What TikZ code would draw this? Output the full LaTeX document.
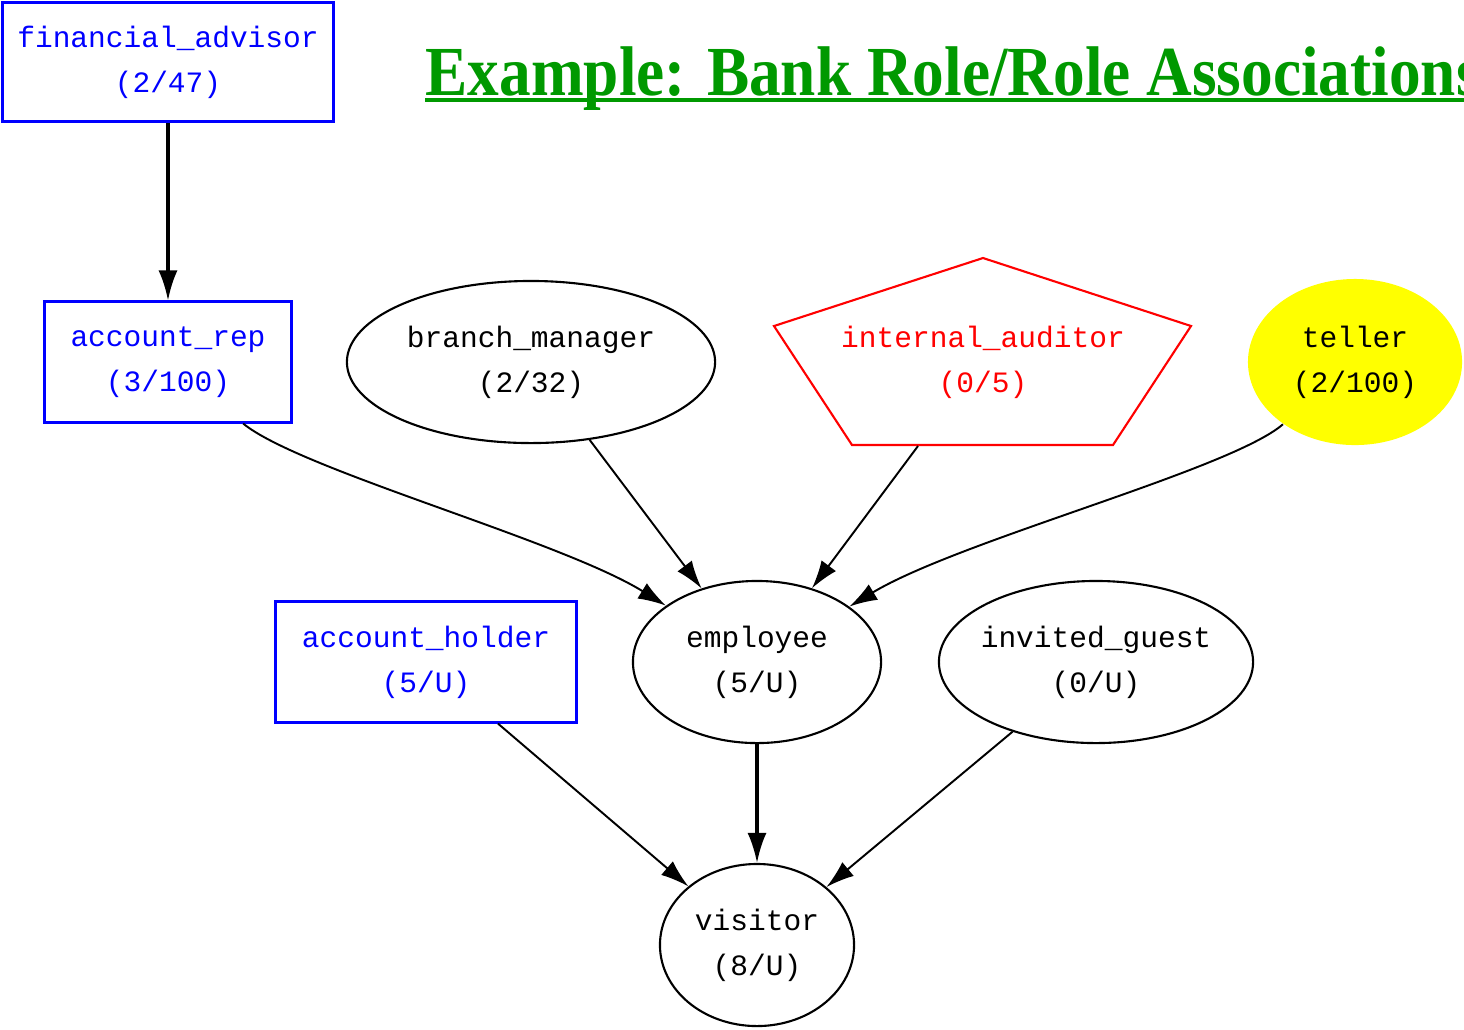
\documentclass[tikz,border=0pt]{standalone}
\usepackage{fontspec}
\setmonofont{Liberation Mono}
\newfontfamily\titlefont{Liberation Serif}
\usetikzlibrary{arrows.meta,shapes.geometric,positioning}
\definecolor{roleblue}{RGB}{0,0,255}
\definecolor{rolered}{RGB}{255,0,0}
\definecolor{roleyellow}{RGB}{255,255,0}
\definecolor{titlegreen}{RGB}{0,153,0}
\tikzset{
  roletext/.style={font=\ttfamily\fontsize{8.4}{12.8}\selectfont, align=center, inner sep=0pt},
  rolebox/.style={roletext, rectangle, draw=roleblue, text=roleblue, line width=0.85pt},
  roleoval/.style={roletext, ellipse, draw=black, line width=0.6pt},
  edge/.style={-{Latex[length=0.28cm,width=0.18cm]}, line width=0.55pt, black},
  thickedge/.style={-{Latex[length=0.3cm,width=0.19cm]}, line width=0.9pt, black}
}

\begin{document}
\begin{tikzpicture}[x=0.01cm,y=-0.01cm]
  \useasboundingbox (0,0) rectangle (1464,1029);
  % title
  \node[anchor=base west, text=titlegreen, inner sep=0pt] (title) at (425,95)
    {\scalebox{0.9}[1]{\titlefont\bfseries\fontsize{20}{24}\selectfont Example: Bank Role/Role Associations}};
  \draw[titlegreen, line width=0.04cm] (title.base west) ++(0,5) -- ++(1100,0);
  % roles
  \node[rolebox, minimum width=3.3cm, minimum height=1.19cm] (advisor) at (168,62) {financial\_advisor\\(2/47)};
  \node[rolebox, minimum width=2.46cm, minimum height=1.2cm] (accrep) at (168,362) {account\_rep\\(3/100)};
  \node[roleoval, minimum width=3.68cm, minimum height=1.62cm] (manager) at (531,362) {branch\_manager\\(2/32)};
  \draw[rolered, line width=0.6pt] (983,258) -- (1191,326) -- (1113,445) -- (852,445) -- (774,326) -- cycle;
  \node[roletext, text=rolered] (auditor) at (983,362) {internal\_auditor\\(0/5)};
  \coordinate (auditorfoot) at (918,446);
  \node[roletext, ellipse, fill=roleyellow, minimum width=2.14cm, minimum height=1.66cm] (teller) at (1355,362) {teller\\(2/100)};
  \node[rolebox, minimum width=3.01cm, minimum height=1.2cm] (holder) at (426,662) {account\_holder\\(5/U)};
  \node[roleoval, minimum width=2.48cm, minimum height=1.62cm] (employee) at (757,662) {employee\\(5/U)};
  \node[roleoval, inner xsep=-0.1cm, minimum width=3.14cm, minimum height=1.62cm] (guest) at (1096,662) {invited\_guest\\(0/U)};
  \node[roleoval, minimum width=1.94cm, minimum height=1.62cm] (visitor) at (757,945) {visitor\\(8/U)};
  % associations
  \draw[thickedge] (advisor) -- (accrep);
  \draw[edge] (accrep) .. controls (300,470) and (560,540) .. (employee);
  \draw[edge] (manager) -- (employee);
  \draw[edge] (auditorfoot) -- (employee);
  \draw[edge] (teller) .. controls (1230,470) and (960,540) .. (employee);
  \draw[thickedge] (employee) -- (visitor);
  \draw[edge] (holder) -- (visitor);
  \draw[edge] (guest) -- (visitor);
\end{tikzpicture}
\end{document}
